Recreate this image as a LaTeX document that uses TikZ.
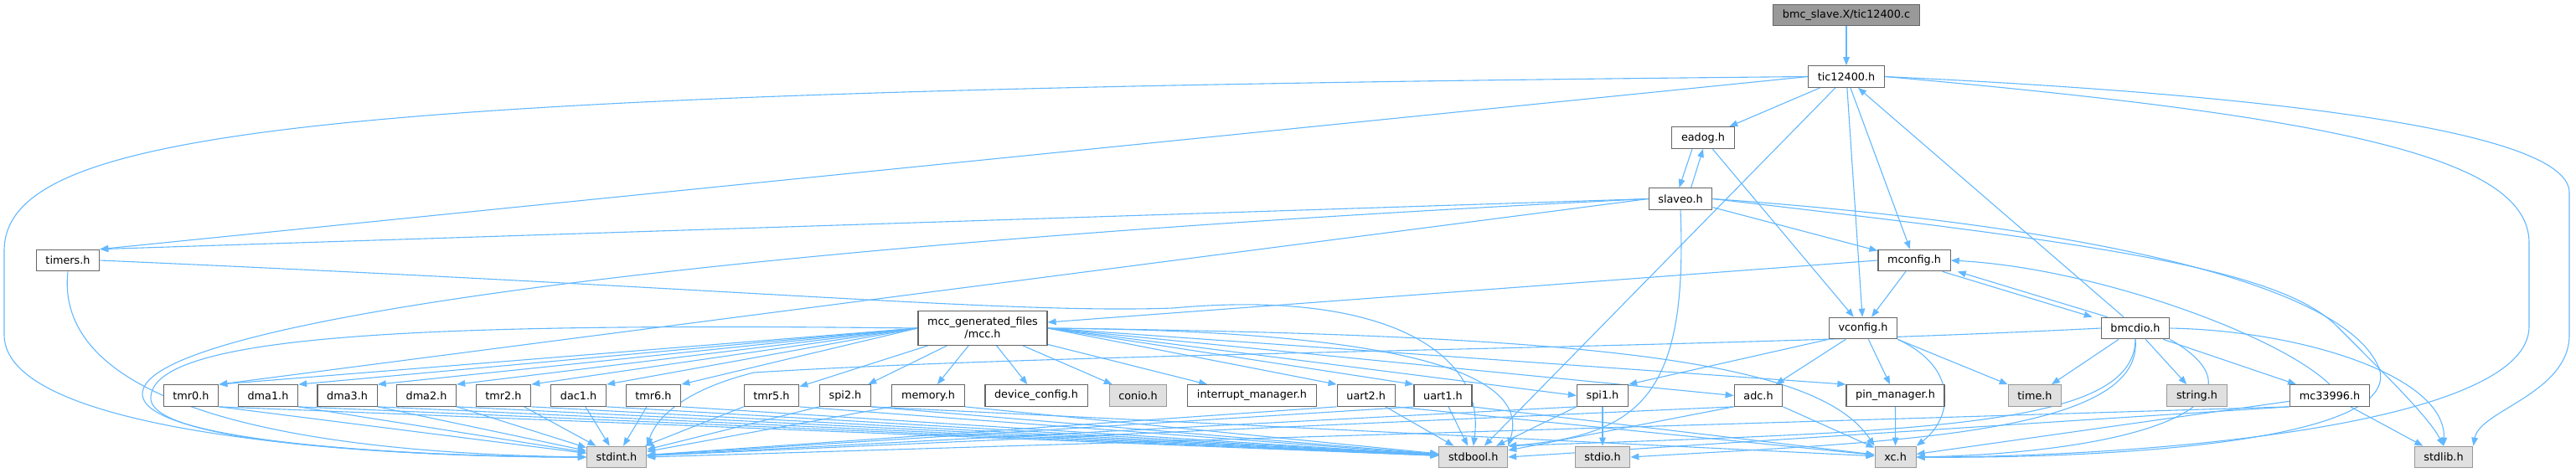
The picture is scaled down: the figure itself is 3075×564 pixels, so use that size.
\documentclass[tikz,border=0pt]{standalone}
\usepackage{fontspec}
\setmainfont{DejaVu Sans}
\usepackage{xcolor}
\usepackage{tikz}
\usetikzlibrary{arrows.meta,backgrounds}
\definecolor{dxline}{HTML}{63B8FF}
\definecolor{dxframe}{HTML}{666666}
\definecolor{dxsysframe}{HTML}{999999}
\definecolor{dxsysfill}{HTML}{E0E0E0}
\definecolor{dxroot}{HTML}{999999}
\tikzset{
  hdr/.style     = {rectangle, draw=dxframe, fill=white, line width=0.6pt, align=center,
                    minimum height=12.75pt, inner xsep=5.6pt, inner ysep=1pt,
                    font=\fontsize{6.4}{7.6}\selectfont},
  syshdr/.style  = {hdr, draw=dxsysframe, fill=dxsysfill},
  roothdr/.style = {hdr, fill=dxroot},
  incl/.style    = {-{Triangle[length=5pt,width=3.8pt]}, draw=dxline, line width=0.55pt},
}

\begin{document}
\begin{tikzpicture}[x=0.5pt, y=-0.5pt]
\useasboundingbox (0,0) rectangle (3075,564);

% top of the graph
\node[roothdr] (root) at (2204,18) {bmc\_slave.X/tic12400.c};
\node[hdr] (tich) at (2204,91.5) {tic12400.h};
\node[hdr] (eadog) at (2033,164.5) {eadog.h};
\node[hdr] (slaveo) at (2006,237.5) {slaveo.h};
\node[hdr] (timers) at (81,311) {timers.h};
\node[hdr] (mconfig) at (2285,311) {mconfig.h};
\node[hdr, minimum height=20.3pt] (mcc) at (1173,392) {mcc\_generated\_files\\/mcc.h};
\node[hdr] (vconfig) at (2224,392) {vconfig.h};
\node[hdr] (bmcdio) at (2549,392) {bmcdio.h};

% row of drivers
\node[hdr] (tmr0) at (228,472.5) {tmr0.h};
\node[hdr] (dma1) at (320,472.5) {dma1.h};
\node[hdr] (dma3) at (414.6,472.5) {dma3.h};
\node[hdr] (dma2) at (509,472.5) {dma2.h};
\node[hdr] (tmr2) at (601,472.5) {tmr2.h};
\node[hdr] (dac1) at (690.6,472.5) {dac1.h};
\node[hdr] (tmr6) at (780,472.5) {tmr6.h};
\node[hdr] (tmr5) at (921,472.5) {tmr5.h};
\node[hdr] (spi2) at (1009,472.5) {spi2.h};
\node[hdr] (memory) at (1108,472.5) {memory.h};
\node[hdr] (devcfg) at (1237,472.5) {device\_config.h};
\node[syshdr] (conio) at (1358.5,472.5) {conio.h};
\node[hdr] (intmgr) at (1494.5,472.5) {interrupt\_manager.h};
\node[hdr] (uart2) at (1630.7,472.5) {uart2.h};
\node[hdr] (uart1) at (1722.5,472.5) {uart1.h};
\node[hdr] (spi1) at (1913,472.5) {spi1.h};
\node[hdr] (adc) at (2099,472.5) {adc.h};
\node[hdr] (pinmgr) at (2262.5,472.5) {pin\_manager.h};
\node[syshdr] (timeh) at (2429,472.5) {time.h};
\node[syshdr] (stringh) at (2622.5,472.5) {string.h};
\node[hdr] (mcdrv) at (2781,472.5) {mc33996.h};

% system headers
\node[syshdr] (stdint) at (736,546) {stdint.h};
\node[syshdr] (stdbool) at (1758.7,546) {stdbool.h};
\node[syshdr] (stdio) at (1913,546) {stdio.h};
\node[syshdr] (xc) at (2262.6,546) {xc.h};
\node[syshdr] (stdlib) at (2917,546) {stdlib.h};

\begin{scope}[on background layer]
\draw[incl] (root) -- (tich);

% tic12400.h
\draw[incl] (tich) -- (eadog);
\draw[incl] (tich.west) -- (timers.north east);
\draw[incl] (tich.west) .. controls (400,108) and (5,150) .. (5,300) -- (5,400) .. controls (5,520) and (450,546) .. (stdint.west);
\draw[incl] (tich) -- (stdbool);
\draw[incl] (tich) -- (vconfig);
\draw[incl] (tich) -- (mconfig);
\draw[incl] (tich.east) .. controls (2800,140) and (3019,190) .. (3019,290) -- (3019,390) .. controls (3019,510) and (2550,546) .. (xc.east);
\draw[incl] (tich.east) .. controls (2650,110) and (3067,150) .. (3067,230) -- (3067,400) .. controls (3067,470) and (2960,490) .. (stdlib.north east);

% eadog.h and slaveo.h
\draw[incl] ([xshift=-6.5pt]eadog.south) -- ([xshift=-0.75pt]slaveo.north);
\draw[incl] ([xshift=6.3pt]slaveo.north) -- (eadog.south);
\draw[incl] (eadog) -- (vconfig);
\draw[incl] (slaveo.west) -- (timers.north east);
\draw[incl] (slaveo.west) .. controls (900,290) and (172,380) .. (170,470) .. controls (168,535) and (560,546) .. (stdint.west);
\draw[incl] (slaveo.west) -- (tmr0.north east);
\draw[incl] (slaveo) -- (mconfig);
\draw[incl] (slaveo.south) .. controls (2015,470) and (1960,520) .. (stdbool.north east);
\draw[incl] (slaveo.east) .. controls (2500,290) and (2720,320) .. (2790,390) .. controls (2860,460) and (2900,500) .. (stdlib.north);
\draw[incl] (slaveo.east) .. controls (2500,270) and (2800,340) .. (2840,440) .. controls (2870,530) and (2500,548) .. (xc.east);

% timers.h
\draw[incl] (timers.south) .. controls (65,470) and (300,540) .. (stdint.west);
\draw[incl] (timers.east) .. controls (900,345) and (1200,375) .. (1400,368) .. controls (1650,345) and (1775,420) .. (stdbool.north);

% mconfig.h
\draw[incl] (mconfig.west) -- ([yshift=3.5pt]mcc.east);
\draw[incl] (mconfig) -- (vconfig);
\draw[incl] ([xshift=-5pt]mconfig.south east) -- ([xshift=-5pt]bmcdio.north west);

% vconfig.h
\draw[incl] (vconfig.south west) -- (spi1.north east);
\draw[incl] (vconfig) -- (adc);
\draw[incl] (vconfig) -- (pinmgr);
\draw[incl] (vconfig.south east) -- (timeh.north west);
\draw[incl] (vconfig.south east) .. controls (2340,440) and (2330,500) .. (xc.north east);

% bmcdio.h
\draw[incl] ([xshift=-7pt]bmcdio.north) -- ([xshift=7pt]tich.south);
\draw[incl] ([xshift=4pt]bmcdio.north west) -- ([xshift=4pt]mconfig.south east);
\draw[incl] (bmcdio.west) .. controls (2000,418) and (1300,420) .. (900,445) .. controls (800,470) and (780,510) .. (stdint.north east);
\draw[incl] (bmcdio) -- (timeh);
\draw[incl] (bmcdio) -- (stringh);
\draw[incl] ([xshift=-4pt]bmcdio.south east) -- ([xshift=4pt]mcdrv.north west);
\draw[incl] (bmcdio.south east) .. controls (2720,480) and (2560,540) .. (xc.east);
\draw[incl] (bmcdio.south) .. controls (2548,510) and (2300,515) .. (stdbool.north east);
\draw[incl] (bmcdio.south) .. controls (2560,520) and (2250,528) .. (stdio.east);
\draw[incl] (bmcdio.east) .. controls (2750,395) and (2920,450) .. (stdlib.north);

% mc33996.h
\draw[incl] (mcdrv.north) .. controls (2720,400) and (2500,320) .. (mconfig.east);
\draw[incl] (mcdrv.south west) -- (stdint.east);
\draw[incl] (mcdrv.south west) -- (stdbool.east);
\draw[incl] (mcdrv) -- (xc);
\draw[incl] (mcdrv) -- (stdlib);

% mcc.h
\draw[incl] (mcc.west) -- (tmr0.north east);
\draw[incl] (mcc.west) -- (dma1.north east);
\draw[incl] (mcc.west) -- (dma3.north east);
\draw[incl] (mcc.west) -- (dma2.north east);
\draw[incl] (mcc.west) -- (tmr2.north east);
\draw[incl] (mcc.west) -- (dac1.north east);
\draw[incl] (mcc.west) -- (tmr6.north east);
\draw[incl] (mcc) -- (tmr5);
\draw[incl] (mcc) -- (spi2);
\draw[incl] (mcc) -- (memory);
\draw[incl] (mcc) -- (devcfg);
\draw[incl] (mcc) -- (conio);
\draw[incl] (mcc) -- (intmgr);
\draw[incl] (mcc.east) -- (uart2.north west);
\draw[incl] (mcc.east) -- (uart1.north west);
\draw[incl] (mcc.east) -- (spi1.west);
\draw[incl] (mcc.east) -- (adc.west);
\draw[incl] (mcc.east) -- (pinmgr.north west);
\draw[incl] (mcc.east) .. controls (1900,400) and (2170,430) .. (xc.north west);
\draw[incl] (mcc.east) .. controls (1650,395) and (1830,440) .. (stdbool.north east);
\draw[incl] (mcc.west) .. controls (500,385) and (182,400) .. (180,475) .. controls (178,535) and (550,546) .. (stdint.west);

% drivers
\draw[incl] (tmr0.south east) -- (stdint);
\draw[incl] (tmr0.south east) -- (stdbool);
\draw[incl] (dma1.south east) -- (stdint);
\draw[incl] (dma1.south east) -- (stdbool);
\draw[incl] (dma3.south east) -- (stdint);
\draw[incl] (dma3.south east) -- (stdbool);
\draw[incl] (dma2.south east) -- (stdint);
\draw[incl] (dma2.south east) -- (stdbool);
\draw[incl] (tmr2) -- (stdint);
\draw[incl] (tmr2.south east) -- (stdbool);
\draw[incl] (dac1) -- (stdint);
\draw[incl] (dac1.south east) -- (stdbool);
\draw[incl] (tmr6) -- (stdint);
\draw[incl] (tmr6.south east) -- (stdbool);
\draw[incl] (tmr5.south west) -- (stdint);
\draw[incl] (tmr5.south east) -- (stdbool);
\draw[incl] (spi2.south west) -- (stdint);
\draw[incl] (spi2.south east) -- (stdbool);
\draw[incl] (spi2.south east) -- (xc);
\draw[incl] (memory.south west) -- (stdint);
\draw[incl] (memory.south east) -- (stdbool);
\draw[incl] (uart2.south west) -- (stdint);
\draw[incl] (uart2) -- (stdbool);
\draw[incl] (uart2.south east) -- (xc);
\draw[incl] (uart1.south west) -- (stdint);
\draw[incl] (uart1) -- (stdbool);
\draw[incl] (uart1.south east) -- (xc);
\draw[incl] (spi1.south west) -- (stdint);
\draw[incl] (spi1.south west) -- (stdbool);
\draw[incl] (spi1) -- (stdio);
\draw[incl] (adc.south west) -- (stdint);
\draw[incl] (adc.south west) -- (stdbool);
\draw[incl] (adc.south east) -- (xc);
\draw[incl] (pinmgr) -- (xc);
\end{scope}

\end{tikzpicture}
\end{document}
